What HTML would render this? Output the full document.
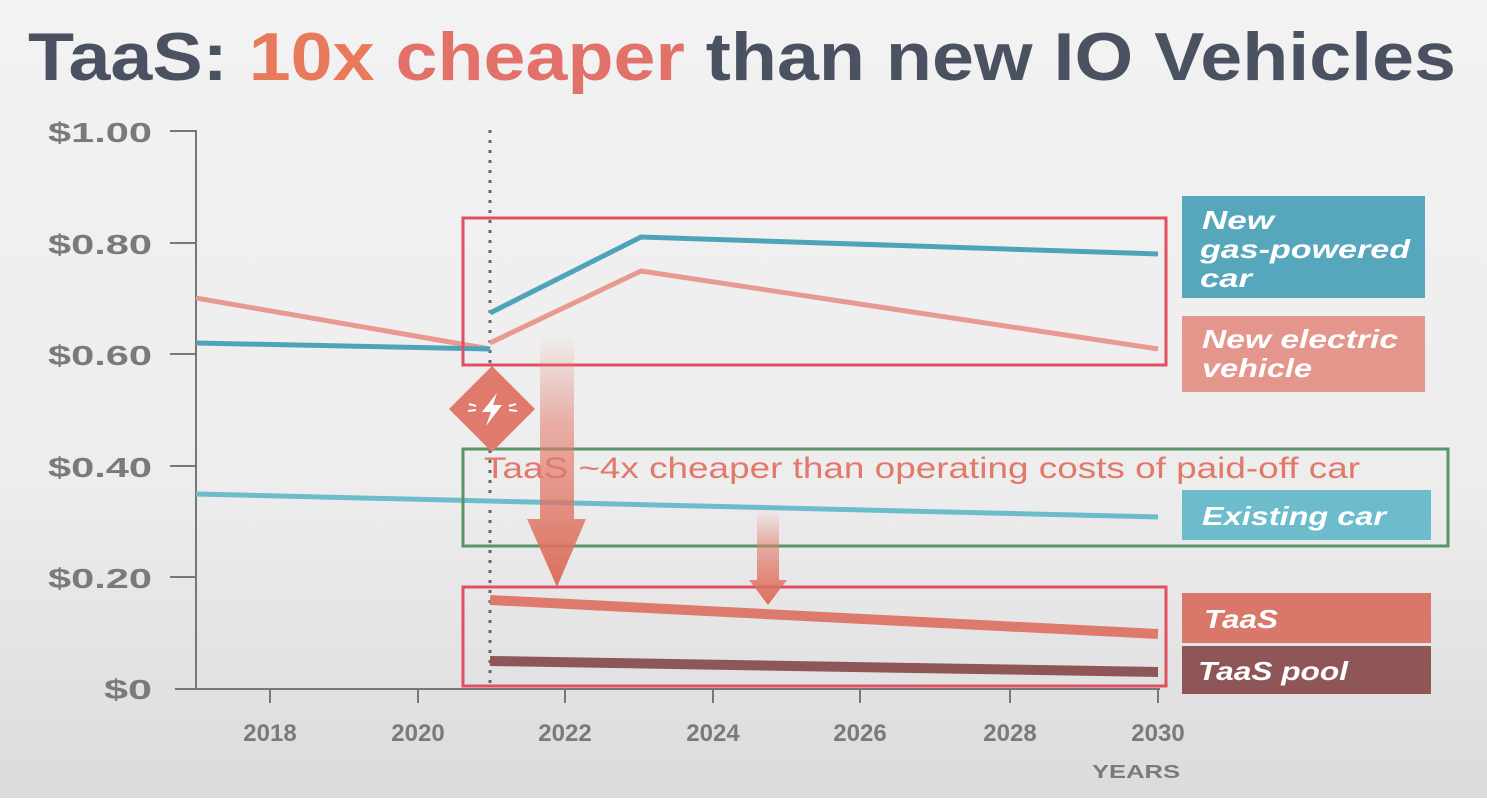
<!DOCTYPE html>
<html><head><meta charset="utf-8"><style>
html,body{margin:0;padding:0}
body{width:1487px;height:798px;overflow:hidden;font-family:"Liberation Sans",sans-serif}
</style></head><body>
<svg width="1487" height="798" viewBox="0 0 1487 798" xmlns="http://www.w3.org/2000/svg">
<defs>
<linearGradient id="bg" x1="0" y1="0" x2="0" y2="1">
<stop offset="0" stop-color="#f3f2f2"/><stop offset="0.6" stop-color="#eeeded"/><stop offset="1" stop-color="#dcdbdb"/>
</linearGradient>
<linearGradient id="ar" x1="0" y1="0" x2="0" y2="1">
<stop offset="0" stop-color="#e27a6a" stop-opacity="0"/><stop offset="0.35" stop-color="#e27a6a" stop-opacity="0.55"/><stop offset="1" stop-color="#dc6e5e"/>
</linearGradient>
</defs>
<rect width="1487" height="798" fill="url(#bg)"/>
<text x="28" y="80" font-size="68" font-weight="bold" fill="#4a5161" textLength="1428" lengthAdjust="spacingAndGlyphs">TaaS: <tspan fill="#e8795a">10x</tspan> <tspan fill="#e2716a">cheaper</tspan> than new IO Vehicles</text>
<g font-size="28" font-weight="bold" fill="#7a7a7a">
<text x="48" y="142" textLength="104" lengthAdjust="spacingAndGlyphs">$1.00</text>
<text x="48" y="254" textLength="104" lengthAdjust="spacingAndGlyphs">$0.80</text>
<text x="48" y="365" textLength="104" lengthAdjust="spacingAndGlyphs">$0.60</text>
<text x="48" y="477" textLength="104" lengthAdjust="spacingAndGlyphs">$0.40</text>
<text x="48" y="588" textLength="104" lengthAdjust="spacingAndGlyphs">$0.20</text>
<text x="104" y="699" textLength="48" lengthAdjust="spacingAndGlyphs">$0</text>
</g>
<g stroke="#777" stroke-width="2">
<line x1="196" y1="130" x2="196" y2="689"/><line x1="175" y1="689" x2="1160" y2="689"/>
<line x1="170" y1="131" x2="196" y2="131"/><line x1="170" y1="243" x2="196" y2="243"/><line x1="170" y1="354" x2="196" y2="354"/>
<line x1="170" y1="466" x2="196" y2="466"/><line x1="170" y1="577" x2="196" y2="577"/>
<line x1="270" y1="689" x2="270" y2="703"/><line x1="418" y1="689" x2="418" y2="703"/><line x1="565" y1="689" x2="565" y2="703"/>
<line x1="713" y1="689" x2="713" y2="703"/><line x1="860" y1="689" x2="860" y2="703"/><line x1="1010" y1="689" x2="1010" y2="703"/><line x1="1158" y1="689" x2="1158" y2="703"/>
</g>
<g font-size="24" font-weight="bold" fill="#7a7a7a" text-anchor="middle">
<text x="270" y="741">2018</text><text x="418" y="741">2020</text><text x="565" y="741">2022</text><text x="713" y="741">2024</text>
<text x="860" y="741">2026</text><text x="1010" y="741">2028</text><text x="1158" y="741">2030</text>
</g>
<text x="1092" y="778" font-size="18" font-weight="bold" fill="#7a7a7a" textLength="88" lengthAdjust="spacingAndGlyphs">YEARS</text>
<line x1="490" y1="130" x2="490" y2="689" stroke="#666" stroke-width="3" stroke-dasharray="3,7"/>
<g fill="none" stroke-width="5" stroke-linecap="butt">
<polyline points="196,298 490,349" stroke="#e89a90"/>
<polyline points="196,343 490,349" stroke="#4fa3b8"/>
<polyline points="490,313 641,237 1158,254" stroke="#4fa3b8"/>
<polyline points="490,343 641,271 1158,349" stroke="#e89a90"/>
<polyline points="196,494 1158,517" stroke="#6cbccc"/>
<polyline points="490,600 1158,634" stroke="#de7a6c" stroke-width="10"/>
<polyline points="490,661 1158,672" stroke="#8e5656" stroke-width="10"/>
</g>
<rect x="463" y="218" width="703" height="147" fill="none" stroke="#e05060" stroke-width="3"/>
<rect x="463" y="587" width="703" height="99" fill="none" stroke="#e05060" stroke-width="3"/>
<rect x="463" y="449" width="985" height="97" fill="none" stroke="#5a9466" stroke-width="3"/>
<polygon points="540,335 574,335 574,519 586,519 557,587 527,519 540,519" fill="url(#ar)"/>
<polygon points="757,510 779,510 779,580 787,580 768,605 749,580 757,580" fill="url(#ar)"/>
<polygon points="492,366 535,409 492,452 449,409" fill="#e07a6c"/>
<polygon points="497,393 482,412 491,412 486,426 502,405 493,405" fill="#fff"/>
<g stroke="#fff" stroke-width="2"><line x1="469" y1="404" x2="476" y2="406"/><line x1="468" y1="411" x2="476" y2="410"/><line x1="509" y1="406" x2="516" y2="404"/><line x1="509" y1="410" x2="517" y2="411"/></g>
<text x="484" y="478" font-size="30" fill="#e2786a" textLength="876" lengthAdjust="spacingAndGlyphs">TaaS ~4x cheaper than operating costs of paid-off car</text>
<rect x="1182" y="196" width="243" height="102" fill="#56a6bc"/>
<rect x="1182" y="316" width="243" height="76" fill="#e4968c"/>
<rect x="1182" y="490" width="249" height="50" fill="#6cbccc"/>
<rect x="1182" y="593" width="249" height="50" fill="#d9786a"/>
<rect x="1182" y="646" width="249" height="48" fill="#8e5656"/>
<g font-size="26" font-weight="bold" font-style="italic" fill="#fff">
<text x="1202" y="229" textLength="72" lengthAdjust="spacingAndGlyphs">New</text>
<text x="1200" y="258" textLength="210" lengthAdjust="spacingAndGlyphs">gas-powered</text>
<text x="1200" y="287" textLength="52" lengthAdjust="spacingAndGlyphs">car</text>
<text x="1202" y="348" textLength="196" lengthAdjust="spacingAndGlyphs">New electric</text>
<text x="1202" y="377" textLength="110" lengthAdjust="spacingAndGlyphs">vehicle</text>
<text x="1202" y="525" textLength="184" lengthAdjust="spacingAndGlyphs">Existing car</text>
<text x="1204" y="628" textLength="74" lengthAdjust="spacingAndGlyphs">TaaS</text>
<text x="1198" y="680" textLength="150" lengthAdjust="spacingAndGlyphs">TaaS pool</text>
</g>
</svg>
</body></html>
